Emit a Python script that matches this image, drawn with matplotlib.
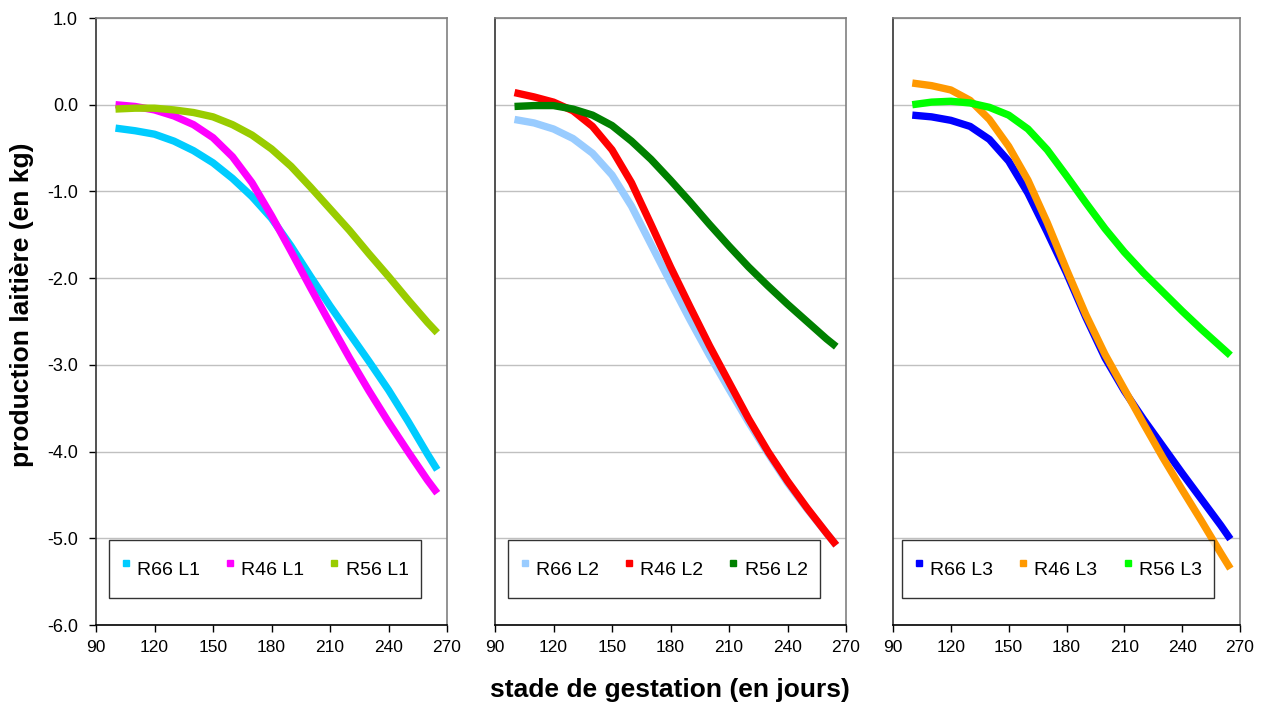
import numpy as np
import matplotlib
matplotlib.use('Agg')
import matplotlib.pyplot as plt
from matplotlib.lines import Line2D
from matplotlib.ticker import FormatStrFormatter

plt.rcParams['font.family'] = ['Liberation Sans', 'DejaVu Sans']
plt.rcParams['axes.unicode_minus'] = False

# stade de gestation (jours)
days = [100, 110, 120, 130, 140, 150, 160, 170, 180, 190, 200, 210, 220, 230, 240, 250, 260, 265]

# L1
r66_l1 = [-0.27, -0.30, -0.34, -0.42, -0.53, -0.67, -0.85, -1.06, -1.31, -1.63, -1.98, -2.32, -2.64, -2.96, -3.29, -3.65, -4.03, -4.21]
r46_l1 = [0.00, -0.02, -0.06, -0.13, -0.23, -0.38, -0.60, -0.90, -1.28, -1.69, -2.11, -2.52, -2.92, -3.30, -3.66, -4.00, -4.33, -4.48]
r56_l1 = [-0.05, -0.04, -0.04, -0.06, -0.09, -0.14, -0.23, -0.35, -0.51, -0.71, -0.95, -1.20, -1.45, -1.72, -1.98, -2.25, -2.51, -2.63]

# L2
r66_l2 = [-0.17, -0.21, -0.28, -0.39, -0.56, -0.81, -1.17, -1.61, -2.05, -2.48, -2.89, -3.28, -3.66, -4.02, -4.36, -4.66, -4.94, -5.08]
r46_l2 = [0.14, 0.09, 0.03, -0.07, -0.25, -0.52, -0.90, -1.38, -1.87, -2.33, -2.78, -3.20, -3.62, -4.00, -4.34, -4.65, -4.94, -5.08]
r56_l2 = [-0.02, -0.01, -0.01, -0.05, -0.12, -0.24, -0.42, -0.63, -0.87, -1.12, -1.38, -1.63, -1.87, -2.09, -2.30, -2.50, -2.70, -2.79]

# L3
r66_l3 = [-0.12, -0.14, -0.18, -0.25, -0.40, -0.65, -1.02, -1.47, -1.94, -2.45, -2.92, -3.30, -3.63, -3.94, -4.25, -4.55, -4.85, -5.01]
r46_l3 = [0.25, 0.22, 0.17, 0.05, -0.17, -0.48, -0.87, -1.36, -1.90, -2.42, -2.88, -3.28, -3.68, -4.07, -4.44, -4.80, -5.17, -5.35]
r56_l3 = [0.00, 0.03, 0.04, 0.02, -0.03, -0.12, -0.28, -0.52, -0.82, -1.13, -1.43, -1.70, -1.94, -2.16, -2.38, -2.59, -2.79, -2.89]

panels = [
  (['R66 L1', 'R46 L1', 'R56 L1'], [r66_l1, r46_l1, r56_l1], ['#00CCFF', '#FF00FF', '#99CC00']),
  (['R66 L2', 'R46 L2', 'R56 L2'], [r66_l2, r46_l2, r56_l2], ['#99CCFF', '#FF0000', '#008000']),
  (['R66 L3', 'R46 L3', 'R56 L3'], [r66_l3, r46_l3, r56_l3], ['#0000FF', '#FF9900', '#00FF00']),
]

fig = plt.figure(figsize=(12.69, 7.06), dpi=100)

W, H = 1269.0, 706.0
lefts = [96, 495, 893]
widths = [351, 351, 347]
leg_x = [0.037, 0.037, 0.026]

for i, (labels, series, colors) in enumerate(panels):
  ax = fig.add_axes([lefts[i] / W, 1 - 625 / H, widths[i] / W, 607 / H])
  for lab, ys, c in zip(labels, series, colors):
    ax.plot(days, ys, color=c, linewidth=5.3, solid_capstyle='butt', solid_joinstyle='round')

  ax.set_xlim(90, 270)
  ax.set_ylim(-6, 1)
  ax.set_xticks(range(90, 271, 30))
  ax.set_yticks(range(-6, 2))
  ax.yaxis.set_major_formatter(FormatStrFormatter('%.1f'))
  ax.grid(True, axis='y', color='#C0C0C0', linewidth=1.0)
  ax.set_axisbelow(True)
  ax.tick_params(axis='x', direction='out', length=5, width=1, labelsize=12.5, pad=6)
  ax.tick_params(axis='y', direction='out', length=5, width=1, labelsize=13, pad=8)
  if i > 0:
    ax.tick_params(axis='y', left=False, labelleft=False)

  ax.spines['left'].set_color('#333333')
  ax.spines['bottom'].set_color('#000000')
  ax.spines['top'].set_color('#808080')
  ax.spines['right'].set_color('#808080')
  for s in ax.spines.values():
    s.set_linewidth(1.2)

  handles = [Line2D([], [], marker='s', linestyle='none', color=c, markersize=4) for c in colors]
  leg = ax.legend(handles, labels, loc='lower left', bbox_to_anchor=(leg_x[i], 0.044),
                  ncol=3, fontsize=14, frameon=True, fancybox=False,
                  edgecolor='black', handlelength=0.5, handleheight=2.35,
                  handletextpad=0.32, columnspacing=1.3, borderpad=0.62,
                  borderaxespad=0)
  leg.get_frame().set_linewidth(1.0)

fig.text(22 / W, 1 - 305 / H, 'production laitière (en kg)', rotation=90,
         ha='center', va='center', fontsize=19, fontweight='bold')
fig.text(670 / W, 1 - 690 / H, 'stade de gestation (en jours)',
         ha='center', va='center', fontsize=19, fontweight='bold')

fig.savefig('out.png', dpi=100)
